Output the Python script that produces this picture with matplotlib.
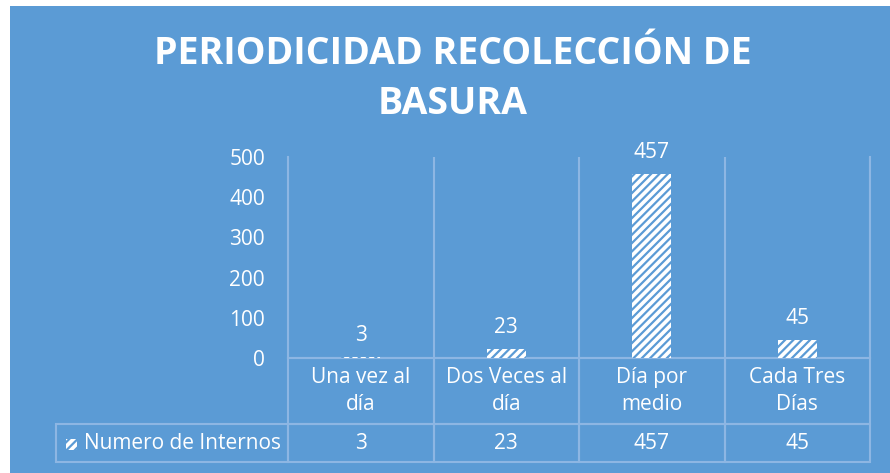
import numpy as np
import matplotlib
matplotlib.use('Agg')
from matplotlib import pyplot as plt
from matplotlib.patches import Rectangle

categories = ['Una vez al\ndía', 'Dos Veces al\ndía', 'Día por\nmedio', 'Cada Tres\nDías']
values = [3, 23, 457, 45]
series_name = 'Numero de Internos'
title = 'PERIODICIDAD RECOLECCIÓN DE\nBASURA'

bg = '#5B9BD5'
line_col = '#8DB6E3'
plt.rcParams['font.family'] = ['Open Sans', 'DejaVu Sans']
plt.rcParams['hatch.linewidth'] = 1.6
plt.rcParams['hatch.color'] = bg

W, H = 890, 473
fig = plt.figure(figsize=(W / 100, H / 100), dpi=100)
fig.patch.set_facecolor('white')
fig.patches.append(Rectangle((10 / W, 0), 880 / W, 467 / H, transform=fig.transFigure,
                             facecolor=bg, edgecolor='none', zorder=-10))

ax_w, ax_h = 582, 201
ax = fig.add_axes([288 / W, 1 - 358 / H, ax_w / W, ax_h / H])
ax.set_facecolor('none')

x = np.arange(len(values))
ax.bar(x, values, width=0.27, color='white', edgecolor=bg, linewidth=0, hatch='////', zorder=3)
for xi, v in zip(x, values):
    ax.annotate(str(v), (xi, v), xytext=(0, 15.5), textcoords='offset points',
                ha='center', va='center', color='white', fontsize=15)

ax.set_xlim(-0.5, len(values) - 0.5)
ax.set_ylim(0, 500)
ax.set_yticks(range(0, 501, 100))
ax.set_xticks([])
ax.set_xticks(np.arange(-0.5, len(values)), minor=True)
ax.grid(axis='x', which='minor', color=line_col, linewidth=1.5)
ax.tick_params(axis='y', length=0, pad=16.5, labelsize=15, labelcolor='white')
ax.tick_params(axis='x', which='minor', length=0)
for side in ['left', 'right', 'bottom']:
    ax.spines[side].set_color(line_col)
    ax.spines[side].set_linewidth(1.5)
ax.spines['top'].set_visible(False)

# data table under the chart, sizes in axes fractions
lab_w, col_w = 232 / ax_w, 1 / len(values)
hdr_h, row_h = 66 / ax_h, 38 / ax_h
tbl = ax.table(cellText=[[str(v) for v in values]], rowLabels=[series_name],
               colLabels=categories, cellLoc='center', rowLoc='right',
               colWidths=[col_w] * len(values),
               bbox=[0, -(hdr_h + row_h), 1, hdr_h + row_h])
tbl._autoColumns = []  # keep the row label column at a fixed width
tbl.auto_set_font_size(False)
tbl.set_fontsize(15)
for (r, c), cell in tbl.get_celld().items():
    cell.set_facecolor('none')
    cell.set_edgecolor(line_col)
    cell.set_linewidth(1.5)
    cell.get_text().set_color('white')
    cell.set_height(hdr_h if r == 0 else row_h)
    cell.set_width(lab_w if c == -1 else col_w)
    if r == 0:
        cell.get_text().set_linespacing(1.4)
    if c == -1:
        cell.PAD = 0.03

# legend key in the table
ax.add_patch(Rectangle((-222 / ax_w, -(450 - 358) / ax_h), 11 / ax_w, 11 / ax_h,
                       transform=ax.transAxes, clip_on=False, facecolor='white',
                       edgecolor=bg, linewidth=0, hatch='////'))

fig.text(453 / W, 1 - 79 / H, title, ha='center', va='center', color='white',
         fontsize=27, fontweight='bold', linespacing=1.4)

plt.savefig('out.png', dpi=100)
plt.close()
